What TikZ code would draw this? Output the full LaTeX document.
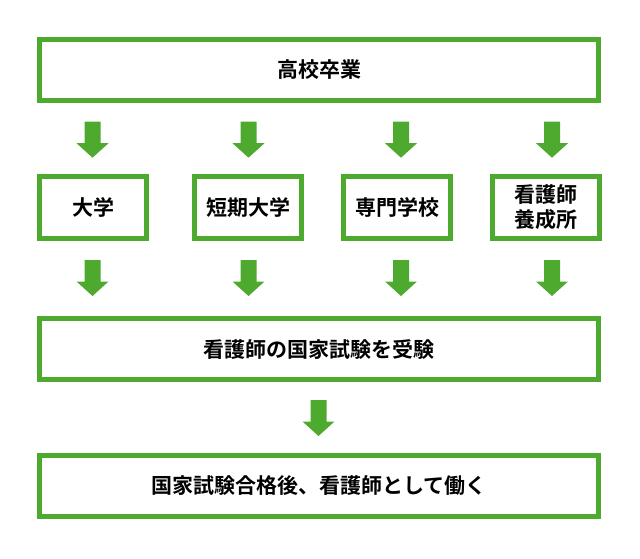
\documentclass[tikz,border=0pt]{standalone}
\usepackage{fontspec}
\newfontfamily\jpfont{Noto Sans CJK JP}[BoldFont={Noto Sans CJK JP Bold}]
\definecolor{boxgreen}{HTML}{4EA92F}
\tikzset{
  stepbox/.style={draw=boxgreen, line width=5pt, fill=white, inner sep=0pt, outer sep=0pt,
    minimum height=61pt, font=\jpfont\bfseries\fontsize{21}{25}\selectfont, align=center, text=black},
  widebox/.style={stepbox, minimum width=559pt},
  smallbox/.style={stepbox, minimum width=107pt, minimum height=62pt},
  blockarrow/.style={fill=boxgreen, draw=none}
}
\newcommand\downarrowblock[1]{%
  \fill[blockarrow] ([shift={(-8,0)}]#1) -- ([shift={(8,0)}]#1) -- ([shift={(8,21.5)}]#1) --
    ([shift={(16,21.5)}]#1) -- ([shift={(0,36)}]#1) -- ([shift={(-16,21.5)}]#1) --
    ([shift={(-8,21.5)}]#1) -- cycle;}
\begin{document}
\begin{tikzpicture}[x=1pt,y=-1pt]
\useasboundingbox (0,0) rectangle (640,558);
\node[widebox] (top) at (319,70) {高校卒業};
\node[smallbox] (univ) at (93,207.5) {大学};
\node[smallbox] (junior) at (248,207.5) {短期大学};
\node[smallbox] (voc) at (397,207.5) {専門学校};
\node[smallbox] (nurse) at (545.5,207.5) {看護師\\養成所};
\node[widebox] (exam) at (319,349) {看護師の国家試験を受験};
\node[widebox] (work) at (319,486) {国家試験合格後、看護師として働く};
% arrow anchor coordinates
\coordinate (a1) at (92.5,121.7);
\coordinate (a2) at (248.5,121.7);
\coordinate (a3) at (401,121.7);
\coordinate (a4) at (552,121.7);
\coordinate (b1) at (92.5,260);
\coordinate (b2) at (248.5,260);
\coordinate (b3) at (401,260);
\coordinate (b4) at (552,260);
\coordinate (c1) at (318.5,400);
\downarrowblock{a1}
\downarrowblock{a2}
\downarrowblock{a3}
\downarrowblock{a4}
\downarrowblock{b1}
\downarrowblock{b2}
\downarrowblock{b3}
\downarrowblock{b4}
\downarrowblock{c1}
\end{tikzpicture}
\end{document}
